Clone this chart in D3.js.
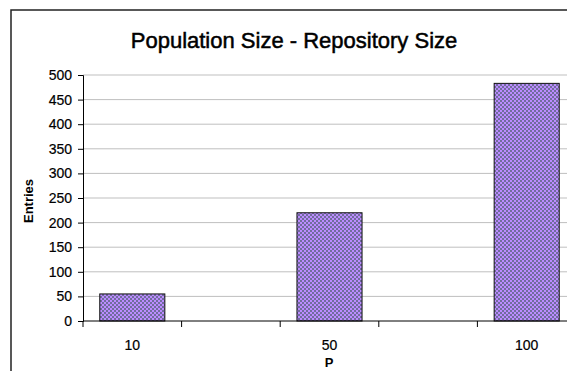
<!DOCTYPE html>
<html><head><meta charset="utf-8">
<script src="https://cdn.jsdelivr.net/npm/d3@7"></script>
<style>body{margin:0;background:#fff}svg{display:block;font-family:"Liberation Sans",Arial,sans-serif}</style>
</head><body>
<svg id="c" width="567" height="371"></svg>
<script>
const slots = ["10", "_gap1", "50", "_gap2", "100"];
const categories = ["10", "50", "100"];
const values = [55, 220, 483];
const yTicks = [0, 50, 100, 150, 200, 250, 300, 350, 400, 450, 500];
const title = "Population Size - Repository Size";
const xTitle = "P";
const yTitle = "Entries";

const svg = d3.select("#c");
const L = 83, R = 576, T = 75, B = 321;
const FF = "'Liberation Sans',Arial,sans-serif";

const defs = svg.append("defs");
const pat = defs.append("pattern").attr("id", "chk").attr("patternUnits", "userSpaceOnUse")
  .attr("width", 4).attr("height", 4);
pat.append("rect").attr("width", 4).attr("height", 4).attr("fill", "#bb8cff");
pat.append("rect").attr("width", 2).attr("height", 2).attr("fill", "#716c9e");
pat.append("rect").attr("x", 2).attr("y", 2).attr("width", 2).attr("height", 2).attr("fill", "#716c9e");

// chart border
svg.append("rect").attr("x", 11).attr("y", 10).attr("width", 600).attr("height", 400)
  .attr("fill", "none").attr("stroke", "#222").attr("stroke-width", 1.5);

const x = d3.scaleBand().domain(slots).range([L, R]);
const y = d3.scaleLinear().domain([0, 500]).range([B, T]);

// gridlines
svg.append("g").selectAll("line").data(yTicks.filter(d => d > 0)).join("line")
  .attr("x1", L).attr("x2", R).attr("y1", d => y(d)).attr("y2", d => y(d))
  .attr("stroke", "#bfbfbf").attr("stroke-width", 1);

// bars
const bw = x.bandwidth() * 0.66;
svg.append("g").selectAll("rect").data(categories).join("rect")
  .attr("x", (d) => x(d) + (x.bandwidth() - bw) / 2)
  .attr("y", (d, i) => y(values[i]))
  .attr("width", bw)
  .attr("height", (d, i) => y(0) - y(values[i]))
  .attr("fill", "url(#chk)").attr("stroke", "#111").attr("stroke-width", 1);

// y axis
const ya = svg.append("g").attr("transform", `translate(${L},0)`)
  .call(d3.axisLeft(y).tickValues(yTicks).tickSize(5).tickPadding(6));
ya.attr("font-size", null).attr("font-family", null);
ya.select(".domain").attr("stroke", "#000");
ya.selectAll("line").attr("stroke", "#000");
ya.selectAll("text").style("font-size", "14px").attr("fill", "#000").style("font-family", FF)
  .attr("stroke", "#000").attr("stroke-width", 0.2);

// x axis line and ticks at band edges
svg.append("line").attr("x1", L).attr("x2", R).attr("y1", B).attr("y2", B)
  .attr("stroke", "#000").attr("stroke-width", 1);
const edges = slots.map(s => x(s)).concat([R]);
svg.append("g").selectAll("line").data(edges).join("line")
  .attr("x1", d => d).attr("x2", d => d).attr("y1", B).attr("y2", B + 6)
  .attr("stroke", "#000");
svg.append("g").selectAll("text").data(categories).join("text")
  .attr("x", d => x(d) + x.bandwidth() / 2).attr("y", 350)
  .attr("text-anchor", "middle").style("font-size", "14px")
  .attr("stroke", "#000").attr("stroke-width", 0.2).text(d => d);

// titles
svg.append("text").attr("x", 294).attr("y", 48).attr("text-anchor", "middle")
  .style("font-size", "22px").attr("stroke", "#000").attr("stroke-width", 0.5).text(title);
svg.append("text").attr("x", 329).attr("y", 367).attr("text-anchor", "middle")
  .style("font-size", "13px").attr("font-weight", "bold").text(xTitle);
svg.append("text").attr("transform", "translate(33,201) rotate(-90)")
  .attr("text-anchor", "middle").style("font-size", "13px").attr("font-weight", "bold").text(yTitle);
</script>
</body></html>
